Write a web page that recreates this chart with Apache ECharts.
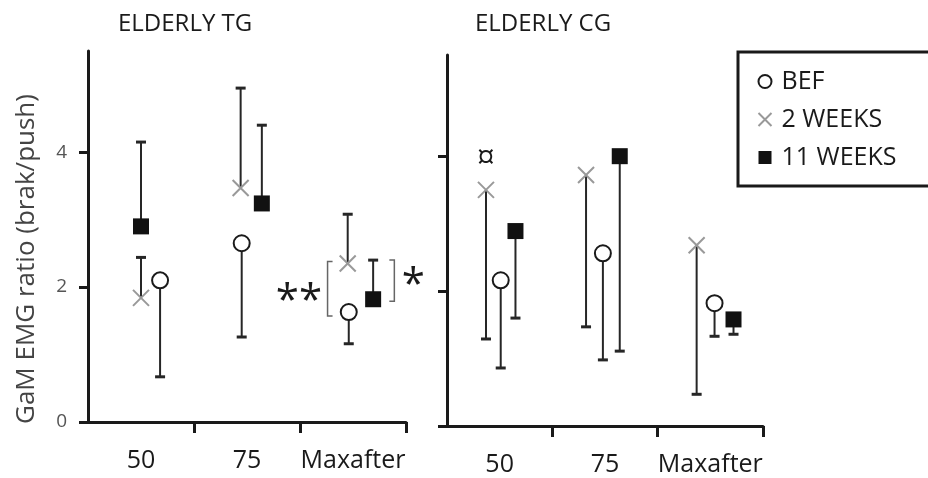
<!DOCTYPE html>
<html>
<head>
<meta charset="utf-8">
<script src="https://cdn.jsdelivr.net/npm/echarts@6/dist/echarts.min.js"></script>
<style>
  html, body { margin: 0; padding: 0; background: #fff; }
  #chart { width: 928px; height: 478px; }
</style>
</head>
<body>
<div id="chart"></div>
<script>
const categories = ['50', '75', 'Maxafter'];
const panelTitles = ['ELDERLY TG', 'ELDERLY CG'];
const seriesNames = ['BEF', '2 WEEKS', '11 WEEKS'];
const yTicks = [0, 2, 4];
const yLabel = 'GaM EMG ratio (brak/push)';

// ELDERLY TG: group means and the far end of each one-sided error bar
const tgBef = [2.10, 2.65, 1.63];
const tgBefBar = [0.67, 1.26, 1.16];
const tg2w = [1.84, 3.47, 2.35];
const tg2wBar = [2.44, 4.95, 3.08];
const tg11w = [2.90, 3.24, 1.82];
const tg11wBar = [4.15, 4.40, 2.40];

// ELDERLY CG
const cgBef = [2.16, 2.56, 1.82];
const cgBefBar = [0.86, 0.98, 1.33];
const cg2w = [3.50, 3.72, 2.68];
const cg2wBar = [1.29, 1.47, 0.47];
const cg11w = [2.89, 4.00, 1.58];
const cg11wBar = [1.60, 1.11, 1.36];

const FONT = 'Open Sans';
const INK = '#1a1a1a';

// horizontal placement of each group inside its category band (band centre = 0)
const dodge = [
  { bef: [0.18, -0.05, -0.04], w2: [0.00, -0.06, -0.05], w11: [0.00, 0.14, 0.19] },
  { bef: [0.01, -0.02, 0.04], w2: [-0.13, -0.18, -0.13], w11: [0.15, 0.14, 0.22] }
];

const panels = [
  { bef: [tgBef, tgBefBar], w2: [tg2w, tg2wBar], w11: [tg11w, tg11wBar] },
  { bef: [cgBef, cgBefBar], w2: [cg2w, cg2wBar], w11: [cg11w, cg11wBar] }
];

const symbols = {
  bef: { name: seriesNames[0], symbol: 'circle', itemStyle: { color: '#fff', borderColor: INK, borderWidth: 2, opacity: 1 } },
  w2: { name: seriesNames[1], symbol: 'path://M0,0L10,10M10,0L0,10', itemStyle: { color: 'none', borderColor: '#999', borderWidth: 2, opacity: 1 } },
  w11: { name: seriesNames[2], symbol: 'rect', itemStyle: { color: '#111', opacity: 1 } }
};

function xPos(p, key, i) {
  return i + 0.5 + dodge[p][key][i];
}

function renderBar(params, api) {
  const a = api.coord([api.value(0), api.value(1)]);
  const b = api.coord([api.value(0), api.value(2)]);
  const half = 5;
  return {
    type: 'group',
    children: [
      { type: 'line', shape: { x1: a[0], y1: a[1], x2: b[0], y2: b[1] }, style: { stroke: '#262626', lineWidth: 2 } },
      { type: 'line', shape: { x1: b[0] - half, y1: b[1], x2: b[0] + half, y2: b[1] }, style: { stroke: '#262626', lineWidth: 3 } }
    ]
  };
}

const grids = [
  { left: 88, top: 51, width: 318, height: 371 },
  { left: 447, top: 55, width: 316, height: 371 }
];

const xAxes = grids.map((g, p) => ({
  type: 'value', gridIndex: p, min: 0, max: 3,
  axisLine: { show: true, onZero: false, lineStyle: { color: INK, width: 3 } },
  axisTick: { show: true, customValues: [1, 2, 3], length: 11, lineStyle: { color: INK, width: 3 } },
  axisLabel: {
    customValues: [0.5, 1.5, 2.5],
    formatter: v => categories[Math.floor(v)],
    fontFamily: FONT, fontSize: 25, color: INK, margin: 26
  },
  splitLine: { show: false }
}));

const yAxes = grids.map((g, p) => ({
  type: 'value', gridIndex: p, min: 0, max: 5.5,
  axisLine: { show: true, onZero: false, lineStyle: { color: INK, width: 3 } },
  axisTick: { show: true, customValues: yTicks, length: 9, lineStyle: { color: INK, width: 3 } },
  axisLabel: { show: p === 0, customValues: yTicks, fontFamily: FONT, fontSize: 19, color: '#555', margin: 21 },
  splitLine: { show: false }
}));

const series = [];
panels.forEach((panel, p) => {
  ['bef', 'w2', 'w11'].forEach(key => {
    const [means, ends] = panel[key];
    series.push({
      type: 'custom', xAxisIndex: p, yAxisIndex: p, z: 2, silent: true,
      renderItem: renderBar,
      encode: { x: 0, y: [1, 2] },
      data: means.map((m, i) => [xPos(p, key, i), m, ends[i]])
    });
  });
  ['bef', 'w2', 'w11'].forEach(key => {
    const [means] = panel[key];
    const s = symbols[key];
    series.push({
      type: 'scatter', name: s.name, xAxisIndex: p, yAxisIndex: p, z: 3, silent: true,
      symbol: s.symbol, symbolSize: 16, itemStyle: s.itemStyle,
      data: means.map((m, i) => [xPos(p, key, i), m])
    });
  });
});

const chart = echarts.init(document.getElementById('chart'), null, { renderer: 'canvas' });
chart.setOption({
  animation: false,
  backgroundColor: '#fff',
  title: [
    { text: panelTitles[0], left: 113, top: 7, textStyle: { fontFamily: FONT, fontSize: 24, fontWeight: 'normal', color: INK } },
    { text: panelTitles[1], left: 470, top: 7, textStyle: { fontFamily: FONT, fontSize: 24, fontWeight: 'normal', color: INK } }
  ],
  legend: {
    data: seriesNames,
    orient: 'vertical',
    left: 738, top: 52,
    padding: [17, 36, 16, 18],
    itemGap: 13,
    itemWidth: 13, itemHeight: 13,
    borderColor: INK, borderWidth: 3,
    selectedMode: false,
    textStyle: { fontFamily: FONT, fontSize: 25, color: INK, padding: [0, 0, 0, 5] }
  },
  grid: grids,
  xAxis: xAxes,
  yAxis: yAxes,
  series: series
});

// significance marks and the y-axis caption
const px = (p, v) => chart.convertToPixel({ gridIndex: p }, v);
const i = 2;
const bl = xPos(0, 'bef', i) - 0.2;
const br = xPos(0, 'w11', i) + 0.2;
const bl0 = px(0, [bl, tg2w[i] + 0.03]);
const bl1 = px(0, [bl, tgBef[i] - 0.06]);
const br0 = px(0, [br, tg11wBar[i]]);
const br1 = px(0, [br, tg11w[i] - 0.03]);
const serif = 5;
const starL = px(0, [bl - 0.27, (tg2w[i] + tgBef[i]) / 2]);
const starR = px(0, [br + 0.16, (tg11wBar[i] + tg11w[i]) / 2]);
const mark = px(1, [xPos(1, 'w2', 0), cg2w[0]]);

chart.setOption({
  graphic: [
    { type: 'text', x: 27, y: 259, rotation: Math.PI / 2,
      style: { text: yLabel, fontFamily: FONT, fontSize: 26, fill: '#444', align: 'center', verticalAlign: 'middle' } },
    { type: 'polyline', shape: { points: [[bl0[0] + serif, bl0[1]], [bl0[0], bl0[1]], [bl1[0], bl1[1]], [bl1[0] + serif, bl1[1]]] },
      style: { stroke: '#666', lineWidth: 1.5, fill: null } },
    { type: 'polyline', shape: { points: [[br0[0] - serif, br0[1]], [br0[0], br0[1]], [br1[0], br1[1]], [br1[0] - serif, br1[1]]] },
      style: { stroke: '#666', lineWidth: 1.5, fill: null } },
    { type: 'text', x: starL[0], y: starL[1] + 14,
      style: { text: '**', fontFamily: FONT, fontSize: 42, fill: INK, align: 'center', verticalAlign: 'middle' } },
    { type: 'text', x: starR[0] + 2, y: starR[1] + 6,
      style: { text: '*', fontFamily: FONT, fontSize: 42, fill: INK, align: 'center', verticalAlign: 'middle' } },
    { type: 'text', x: mark[0], y: mark[1] - 31,
      style: { text: '¤', fontFamily: FONT, fontSize: 32, fill: INK, align: 'center', verticalAlign: 'middle' } }
  ]
});
</script>
</body>
</html>
